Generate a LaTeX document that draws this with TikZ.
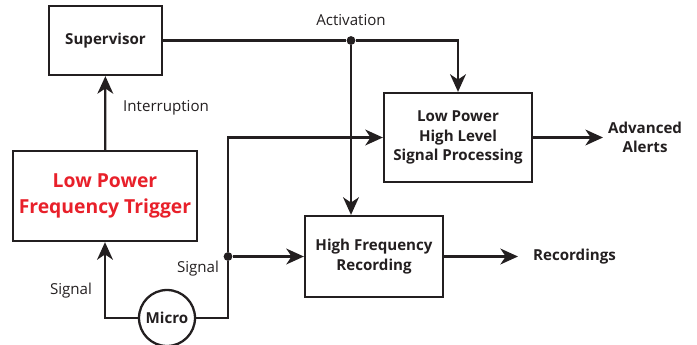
\documentclass[tikz,border=0pt]{standalone}
\usepackage{fontspec}
\setmainfont{Open Sans}
\usetikzlibrary{arrows.meta}
\definecolor{trigred}{HTML}{E8202A}
\definecolor{ink}{HTML}{231F20}
\tikzset{
  block/.style={draw=ink, line width=1.3pt, align=center, inner sep=0pt,
    font=\fontsize{8.6}{11}\selectfont\bfseries, text=ink},
  wire/.style={draw=ink, line width=1.3pt},
  flow/.style={wire, -{Stealth[length=10pt, width=9pt, inset=3pt]}},
  lbl/.style={font=\fontsize{8.6}{11}\selectfont, text=ink, align=center},
  junction/.style={circle, fill=ink, inner sep=0pt, minimum size=5pt},
}
\begin{document}
\begin{tikzpicture}[x=0.02cm, y=-0.02cm]
  \useasboundingbox (0,0) rectangle (697,345);
  % Blocks
  \node[block, minimum width=2.26cm, minimum height=1.38cm] (sup) at (105.5,40.5) {Supervisor};
  \node[block, minimum width=3.68cm, minimum height=1.80cm, text=trigred,
        font=\fontsize{11}{14.5}\selectfont\bfseries] (trig) at (105,196) {Low Power\\Frequency Trigger};
  \node[block, minimum width=2.96cm, minimum height=1.78cm] (lphl) at (458,137.5) {Low Power\\High Level\\Signal Processing};
  \node[block, minimum width=2.76cm, minimum height=1.62cm] (hfr) at (374,256.5) {High Frequency\\Recording};
  \node[block, circle, minimum size=1.12cm] (mic) at (167,318) {Micro};

  % Junctions
  \node[junction] (actdot) at (351,40.5) {};
  \node[junction] (sigdot) at (228,256.5) {};
  \coordinate (alerts) at (603,137.5);
  \coordinate (recs) at (518,256.5);

  % Connectors
  \draw[flow] (trig) -- (sup);
  \draw[wire] (sup.east) -- (actdot);
  \draw[flow] (actdot) -| (lphl.north);
  \draw[flow] (actdot) -- (hfr.north -| actdot);
  \draw[flow] (mic.west) -| (trig.south);
  \draw[wire] (mic.east) -| (sigdot);
  \draw[flow] (sigdot) |- (lphl.west);
  \draw[flow] (sigdot) -- (hfr.west);
  \draw[flow] (lphl.east) -- (alerts);
  \draw[flow] (hfr.east) -- (recs);

  % Labels
  \node[lbl, anchor=west] (intlbl) at (117,108) {Interruption};
  \node[lbl] (actlbl) at (351,20) {Activation};
  \node[lbl] (siglbl1) at (71,291) {Signal};
  \node[lbl] (siglbl2) at (198,269) {Signal};
  \node[block, draw=none, anchor=west] (alertlbl) at (607,137.5) {Advanced\\Alerts};
  \node[block, draw=none, anchor=west] (reclbl) at (532,257) {Recordings};
\end{tikzpicture}
\end{document}
